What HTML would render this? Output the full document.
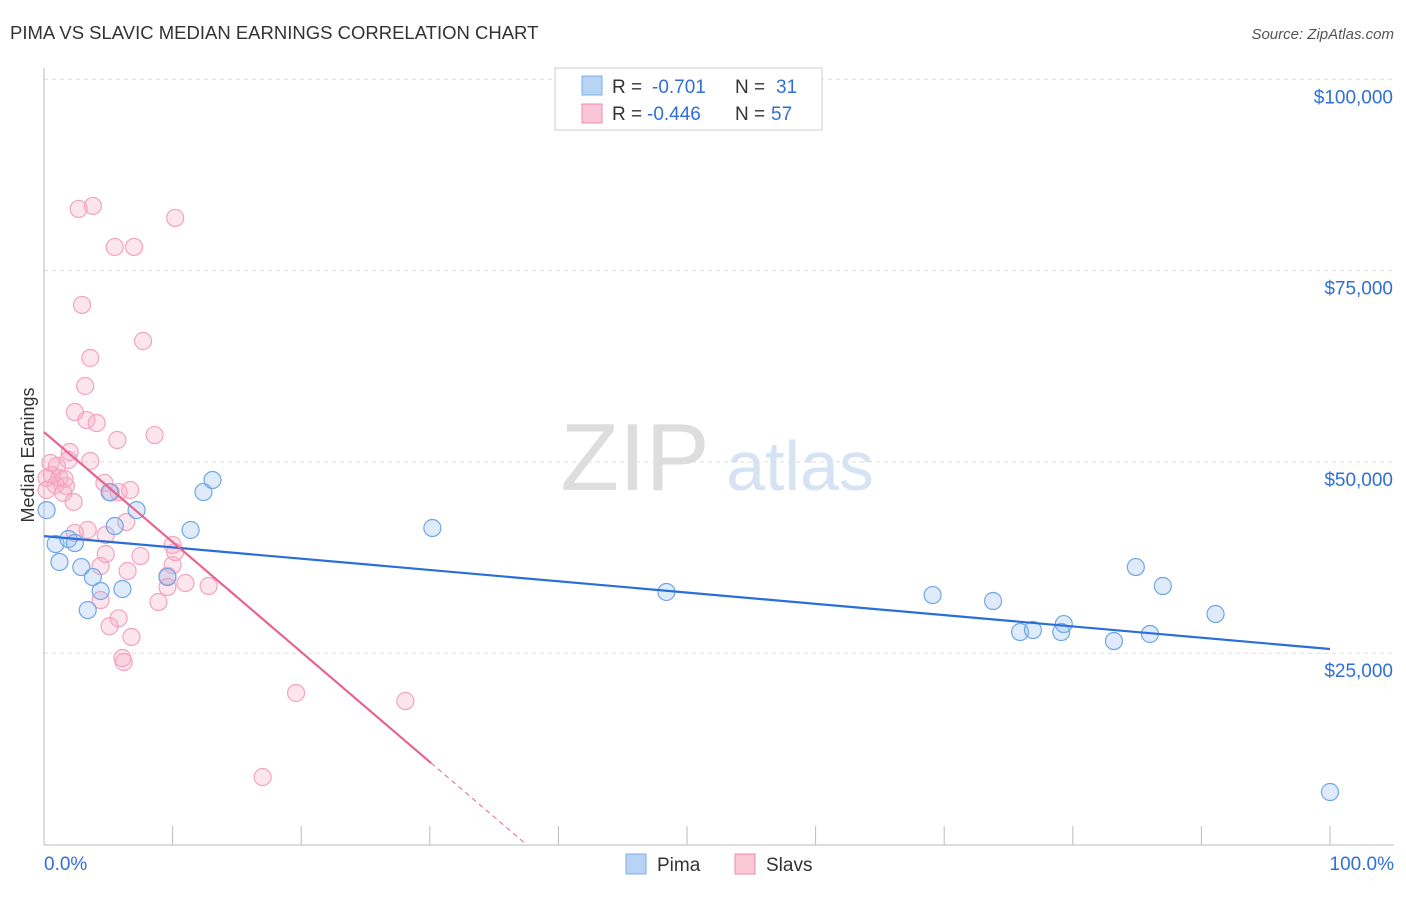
<!DOCTYPE html>
<html><head><meta charset="utf-8"><style>
body{margin:0;background:#fff;font-family:"Liberation Sans",sans-serif;}
svg text{font-family:"Liberation Sans",sans-serif;}
</style></head><body>
<svg id="chart" width="1406" height="892">
<text x="10" y="39" font-size="18.5" fill="#333">PIMA VS SLAVIC MEDIAN EARNINGS CORRELATION CHART</text>
<text x="1394" y="39" font-size="15" fill="#555" text-anchor="end" font-style="italic">Source: ZipAtlas.com</text>
<text x="34" y="455" font-size="18" fill="#333" text-anchor="middle" transform="rotate(-90 34 455)">Median Earnings</text>
<g><text x="635" y="490" font-size="96" fill="#ddd" font-family="Liberation Serif" text-anchor="middle">ZIP</text><text x="800" y="490" font-size="70" fill="#d5e3f5" text-anchor="middle">atlas</text></g>
<g id="grid"></g><g id="marks"></g>
<g>
<rect x="555" y="68" width="267" height="62" fill="#fff" stroke="#ccc"/>
<rect x="582" y="76" width="20" height="19" fill="#b8d4f5" stroke="#7aaee8"/>
<rect x="582" y="104" width="20" height="19" fill="#fbc6d6" stroke="#f08ab0"/>
<text x="612" y="93" font-size="19" fill="#333">R = </text><text x="652" y="93" font-size="19" fill="#2f6fd6">-0.701</text>
<text x="735" y="93" font-size="19" fill="#333">N = </text><text x="776" y="93" font-size="19" fill="#2f6fd6">31</text>
<text x="612" y="120" font-size="19" fill="#333">R = </text><text x="647" y="120" font-size="19" fill="#2f6fd6">-0.446</text>
<text x="735" y="120" font-size="19" fill="#333">N = </text><text x="771" y="120" font-size="19" fill="#2f6fd6">57</text>
</g>
<g>
<rect x="626" y="854" width="20" height="20" fill="#b8d4f5" stroke="#7aaee8"/><text x="657" y="871" font-size="19" fill="#333">Pima</text>
<rect x="735" y="854" width="20" height="20" fill="#fbc6d6" stroke="#f08ab0"/><text x="766" y="871" font-size="19" fill="#333">Slavs</text>
</g>
<text x="44" y="870" font-size="19" fill="#2f6fd6">0.0%</text>
<text x="1394" y="870" font-size="19" fill="#2f6fd6" text-anchor="end">100.0%</text>
</svg>
<script>
const yTicks=[25000,50000,75000,100000];
const yTickLabels=["$25,000","$50,000","$75,000","$100,000"];
const pimaX=[0.2,0.9,1.2,1.9,2.4,2.9,3.4,3.8,4.4,5.1,5.5,6.1,7.2,9.6,11.4,12.4,13.1,30.2,48.4,69.1,73.8,75.9,76.9,79.1,79.3,83.2,84.9,86.0,87.0,91.1,100];
const pimaY=[43700,39270,36920,39920,39400,36260,30640,34950,33130,46060,41620,33390,43700,34950,41100,46060,47630,41360,33000,32600,31820,27770,28030,27770,28810,26590,36260,27510,33780,30120,6860];
const slavX=[2.7,3.8,10.2,5.5,7.0,2.96,7.7,3.6,3.2,2.4,3.3,4.1,5.7,8.6,2.0,1.9,3.6,0.5,1.0,0.6,1.2,1.6,0.9,1.7,0.2,1.5,2.3,4.7,5.8,6.7,6.4,3.4,2.4,4.8,10.0,4.8,7.5,10.2,4.4,6.5,10.0,9.6,11.0,12.8,4.4,8.9,9.6,5.8,5.1,6.8,6.1,6.2,19.6,28.1,17.0,0.2,5.2];
const slavY=[83060,83450,81880,78090,78090,70510,65800,63580,59920,56520,55470,55080,52860,53510,51290,50250,50120,49860,49470,48290,47900,47770,46990,46860,46330,45940,44760,47250,46060,46330,42150,41100,40710,40450,39140,37960,37700,38220,36390,35740,36520,35090,34170,33780,31950,31690,33650,29560,28520,27120,24370,23850,19800,18750,8820,47900,46000];
const pimaLine=[40300,25550];
const slavLine=[53900,-1437];
const xs=v=>44+v*12.86, ys=v=>844.5-v/25000*191.3;
const NS="http://www.w3.org/2000/svg";
function mk(t,a,p){const e=document.createElementNS(NS,t);for(const k in a)e.setAttribute(k,a[k]);p.appendChild(e);return e;}
const g=document.getElementById('grid'), m=document.getElementById('marks');
yTicks.forEach((t,i)=>{
 const l=mk('line',{x1:44,x2:1394,y1:ys(t),y2:ys(t),stroke:'#ddd','stroke-dasharray':'4,4'},g);
 
 
 const tx=mk('text',{x:1393,y:ys(t)+24,'font-size':19,fill:'#2f6fd6','text-anchor':'end'},g);tx.textContent=yTickLabels[i];
 
 
});
mk('line',{x1:44,x2:44,y1:68,y2:845,stroke:'#bbb'},g);
mk('line',{x1:44,x2:1394,y1:845,y2:845,stroke:'#bbb'},g);
for(let i=0;i<=10;i++){const t=mk('line',{x1:xs(i*10),x2:xs(i*10),y1:826,y2:845,stroke:'#bbb'},g);
 
 }
slavX.forEach((x,i)=>{const c=mk('circle',{cx:xs(x),cy:ys(slavY[i]),r:8.5,fill:'rgba(248,170,195,0.3)',stroke:'#f3a3bf','stroke-width':1.2},m);
 
 });
pimaX.forEach((x,i)=>{const c=mk('circle',{cx:xs(x),cy:ys(pimaY[i]),r:8.5,fill:'rgba(150,190,240,0.3)',stroke:'#6fa6e6','stroke-width':1.2},m);
 
 });
const pl=mk('line',{x1:xs(0),y1:ys(pimaLine[0]),x2:xs(100),y2:ys(pimaLine[1]),stroke:'#2a6fd8','stroke-width':2.2},m);


const sl=mk('line',{x1:xs(0),y1:ys(slavLine[0]),x2:xs(30.1),y2:ys(slavLine[0]+slavLine[1]*30.1),stroke:'#e8648f','stroke-width':2.2},m);


const z=-slavLine[0]/slavLine[1];
const sd=mk('line',{x1:xs(30.1),y1:ys(slavLine[0]+slavLine[1]*30.1),x2:xs(z),y2:ys(0),stroke:'#e8648f','stroke-width':1,'stroke-dasharray':'5,4'},m);


</script>
</body></html>
